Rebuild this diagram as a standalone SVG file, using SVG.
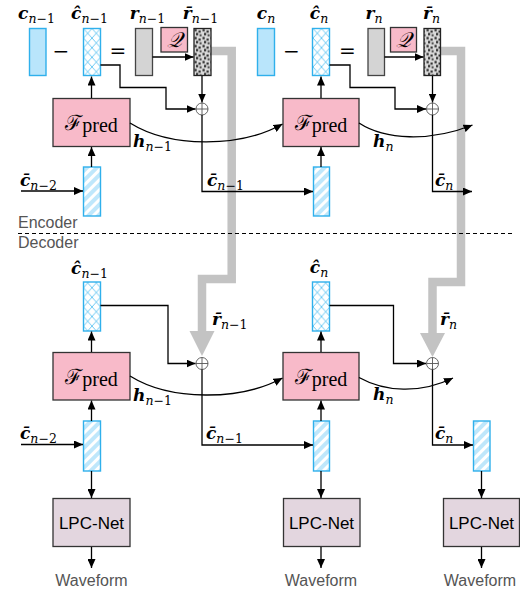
<svg xmlns="http://www.w3.org/2000/svg" width="520" height="592" viewBox="0 0 520 592">
<style>
.blue{fill:#b9e5fb;stroke:#2fb0ec;stroke-width:1.4}
.xh{fill:url(#xhp);stroke:#2fb0ec;stroke-width:1.4}
.dh{fill:url(#dhp);stroke:#2fb0ec;stroke-width:1.4}
.gr{fill:#d4d4d4;stroke:#444;stroke-width:1.3}
.dot{fill:url(#dotp);stroke:#222;stroke-width:1.3}
.pink{fill:#f8bac9;stroke:#333;stroke-width:1.3}
.lpc{fill:#e3d6df;stroke:#333;stroke-width:1.3}
.ln{fill:none;stroke:#000;stroke-width:1.3}
.arr{marker-end:url(#ah)}
.gray{fill:none;stroke:#c3c3c3;stroke-width:8.5}
.plus{fill:#fff;stroke:#555;stroke-width:0.9}
.v{font-family:"DejaVu Serif",serif;font-weight:bold;font-style:italic;font-size:17px}
.si{font-family:"DejaVu Serif",serif;font-style:italic;font-weight:normal;font-size:12.5px}
.su{font-family:"DejaVu Serif",serif;font-style:normal;font-weight:normal;font-size:12.5px}
.op{font-family:"DejaVu Serif",serif;font-size:20px;text-anchor:middle}
.fp{font-family:"DejaVu Serif",serif;font-size:21px}
.pr{font-family:"Liberation Serif",serif;font-size:20px}
.q{font-family:"DejaVu Serif",serif;font-style:italic;font-size:21px;text-anchor:middle}
.lab{font-family:"Liberation Sans",Arial,sans-serif;font-size:16px;fill:#555}
.lt{font-family:"Liberation Sans",Arial,sans-serif;font-size:17px;fill:#000;text-anchor:middle}
</style>
<defs>
<pattern id="xhp" patternUnits="userSpaceOnUse" width="8.5" height="9.6" x="83.5" y="28.5">
<rect width="8.5" height="9.6" fill="#fff"/>
<path d="M0,0 L8.5,9.6 M8.5,0 L0,9.6" stroke="#5cc3f2" stroke-width="0.9" fill="none"/>
</pattern>
<pattern id="dhp" patternUnits="userSpaceOnUse" width="7" height="7" patternTransform="rotate(45)">
<rect width="7" height="7" fill="#bfe7fb"/>
<rect width="3" height="7" fill="#fff"/>
</pattern>
<pattern id="dotp" patternUnits="userSpaceOnUse" width="8" height="8" x="194" y="28.5">
<rect width="8" height="8" fill="#d9d9d9"/>
<rect x="0.5" y="0.5" width="2.2" height="2.2" fill="#222"/>
<rect x="4.5" y="2" width="2.2" height="2.2" fill="#333"/>
<rect x="2" y="4.5" width="2.2" height="2.2" fill="#222"/>
<rect x="5.6" y="5.8" width="2" height="2" fill="#444"/>
</pattern>
<marker id="ah" viewBox="0 0 9 8" refX="9" refY="4" markerWidth="9" markerHeight="8" markerUnits="userSpaceOnUse" orient="auto">
<path d="M0,0 L9,4 L0,8 z" fill="#000"/>
</marker>
</defs>
<rect width="520" height="592" fill="#fff"/>

<!-- gray residual paths -->
<g id="residual-paths">
<path class="gray" d="M211,51 H231.7 V279 H202 V332"/>
<polygon points="189.5,331 214.5,331 202,356" fill="#c3c3c3"/>
<path class="gray" d="M440.5,51 H461 V282 H432.5 V334"/>
<polygon points="420,333 445,333 432.5,357" fill="#c3c3c3"/>
</g>

<!-- encoder nodes -->
<g id="enc-c-n1"><rect class="blue" x="29.5" y="28.5" width="16.5" height="47"/>
<text x="36.5" y="19" text-anchor="middle"><tspan class="v">c</tspan><tspan class="si" dy="3.5">n</tspan><tspan class="su">−1</tspan></text></g>
<g id="enc-chat-n1"><rect class="xh" x="83.5" y="28.5" width="17" height="47"/>
<text x="89.5" y="19" text-anchor="middle"><tspan class="v">ĉ</tspan><tspan class="si" dy="3.5">n</tspan><tspan class="su">−1</tspan></text></g>
<g id="enc-r-n1"><rect class="gr" x="135.5" y="28.5" width="17" height="47"/>
<text x="147.5" y="19" text-anchor="middle"><tspan class="v">r</tspan><tspan class="si" dy="3.5">n</tspan><tspan class="su">−1</tspan></text></g>
<g id="enc-q-n1"><rect class="pink" x="161" y="27.5" width="26.5" height="24.5"/>
<text class="q" x="174.2" y="47">𝒬</text></g>
<g id="enc-rbar-n1"><rect class="dot" x="194" y="28.5" width="17" height="47"/>
<text x="200.5" y="19" text-anchor="middle"><tspan class="v">r̄</tspan><tspan class="si" dy="3.5">n</tspan><tspan class="su">−1</tspan></text></g>
<text class="op" x="61" y="58">−</text>
<text class="op" x="118" y="58">=</text>

<g id="enc-c-n"><rect class="blue" x="257.5" y="28.5" width="17" height="47"/>
<text x="266" y="19" text-anchor="middle"><tspan class="v">c</tspan><tspan class="si" dy="3.5">n</tspan></text></g>
<g id="enc-chat-n"><rect class="xh" x="312.5" y="28.5" width="17" height="47"/>
<text x="319" y="19" text-anchor="middle"><tspan class="v">ĉ</tspan><tspan class="si" dy="3.5">n</tspan></text></g>
<g id="enc-r-n"><rect class="gr" x="368" y="28.5" width="16.5" height="47"/>
<text x="374" y="19" text-anchor="middle"><tspan class="v">r</tspan><tspan class="si" dy="3.5">n</tspan></text></g>
<g id="enc-q-n"><rect class="pink" x="390.5" y="27.5" width="26" height="24.5"/>
<text class="q" x="403.5" y="47">𝒬</text></g>
<g id="enc-rbar-n"><rect class="dot" x="424" y="28.5" width="16.5" height="47"/>
<text x="431.5" y="19" text-anchor="middle"><tspan class="v">r̄</tspan><tspan class="si" dy="3.5">n</tspan></text></g>
<text class="op" x="291.5" y="58">−</text>
<text class="op" x="347.5" y="58">=</text>

<g id="enc-fpred-n1"><rect class="pink" x="53" y="98.5" width="77" height="48"/>
<text x="91.5" y="130" text-anchor="middle"><tspan class="fp">ℱ</tspan><tspan class="pr" dy="2">pred</tspan></text></g>
<g id="enc-fpred-n"><rect class="pink" x="283" y="98.5" width="76" height="48"/>
<text x="321" y="130" text-anchor="middle"><tspan class="fp">ℱ</tspan><tspan class="pr" dy="2">pred</tspan></text></g>
<g id="enc-cbar-n2"><rect class="dh" x="83.5" y="167" width="17" height="49"/></g>
<g id="enc-cbar-n1"><rect class="dh" x="313.5" y="167" width="16" height="49"/></g>
<g id="enc-plus-n1"><circle class="plus" cx="202" cy="109" r="6"/><path d="M196,109 H208 M202,103 V115" stroke="#555" stroke-width="0.9"/></g>
<g id="enc-plus-n"><circle class="plus" cx="432.5" cy="109" r="6"/><path d="M426.5,109 H438.5 M432.5,103 V115" stroke="#555" stroke-width="0.9"/></g>

<!-- encoder connector labels -->
<text x="20" y="186"><tspan class="v">c̄</tspan><tspan class="si" dy="3.5">n</tspan><tspan class="su">−2</tspan></text>
<text x="133" y="147"><tspan class="v">h</tspan><tspan class="si" dy="3.5">n</tspan><tspan class="su">−1</tspan></text>
<text x="207" y="186"><tspan class="v">c̄</tspan><tspan class="si" dy="3.5">n</tspan><tspan class="su">−1</tspan></text>
<text x="373" y="147"><tspan class="v">h</tspan><tspan class="si" dy="3.5">n</tspan></text>
<text x="435" y="186"><tspan class="v">c̄</tspan><tspan class="si" dy="3.5">n</tspan></text>

<text class="lab" x="18" y="228">Encoder</text>
<line x1="18" y1="233.5" x2="512" y2="233.5" stroke="#000" stroke-width="1.1" stroke-dasharray="4,3"/>
<text class="lab" x="18" y="248">Decoder</text>

<!-- decoder nodes -->
<g id="dec-chat-n1"><rect class="xh" x="83.5" y="282" width="17" height="49"/>
<text x="89.5" y="274" text-anchor="middle"><tspan class="v">ĉ</tspan><tspan class="si" dy="3.5">n</tspan><tspan class="su">−1</tspan></text></g>
<g id="dec-chat-n"><rect class="xh" x="312.5" y="282" width="17" height="49"/>
<text x="319" y="273" text-anchor="middle"><tspan class="v">ĉ</tspan><tspan class="si" dy="3.5">n</tspan></text></g>
<g id="dec-fpred-n1"><rect class="pink" x="53" y="352.5" width="77" height="47.5"/>
<text x="91.5" y="383.5" text-anchor="middle"><tspan class="fp">ℱ</tspan><tspan class="pr" dy="2">pred</tspan></text></g>
<g id="dec-fpred-n"><rect class="pink" x="283" y="352.5" width="76" height="47.5"/>
<text x="321" y="383.5" text-anchor="middle"><tspan class="fp">ℱ</tspan><tspan class="pr" dy="2">pred</tspan></text></g>
<g id="dec-plus-n1"><circle class="plus" cx="202" cy="363.5" r="6"/><path d="M196,363.5 H208 M202,357.5 V369.5" stroke="#555" stroke-width="0.9"/></g>
<g id="dec-plus-n"><circle class="plus" cx="432.5" cy="363.5" r="6"/><path d="M426.5,363.5 H438.5 M432.5,357.5 V369.5" stroke="#555" stroke-width="0.9"/></g>
<g id="dec-cbar-n2"><rect class="dh" x="83.5" y="421" width="17" height="50"/></g>
<g id="dec-cbar-n1"><rect class="dh" x="313.5" y="421" width="16" height="50"/></g>
<g id="dec-cbar-n"><rect class="dh" x="473.5" y="421" width="16.5" height="50"/></g>
<g id="lpc-1"><rect class="lpc" x="53" y="498.5" width="77" height="48"/><text class="lt" x="91.5" y="528.5">LPC-Net</text></g>
<g id="lpc-2"><rect class="lpc" x="283.5" y="498.5" width="76.5" height="48"/><text class="lt" x="321.5" y="528.5">LPC-Net</text></g>
<g id="lpc-3"><rect class="lpc" x="443.5" y="498.5" width="76" height="48"/><text class="lt" x="481.5" y="528.5">LPC-Net</text></g>
<text class="lab" x="91.5" y="586" text-anchor="middle">Waveform</text>
<text class="lab" x="321" y="586" text-anchor="middle">Waveform</text>
<text class="lab" x="480" y="586" text-anchor="middle">Waveform</text>

<!-- decoder labels -->
<text x="212" y="325"><tspan class="v">r̄</tspan><tspan class="si" dy="3.5">n</tspan><tspan class="su">−1</tspan></text>
<text x="440" y="325"><tspan class="v">r̄</tspan><tspan class="si" dy="3.5">n</tspan></text>
<text x="133" y="401"><tspan class="v">h</tspan><tspan class="si" dy="3.5">n</tspan><tspan class="su">−1</tspan></text>
<text x="373" y="400"><tspan class="v">h</tspan><tspan class="si" dy="3.5">n</tspan></text>
<text x="20" y="439"><tspan class="v">c̄</tspan><tspan class="si" dy="3.5">n</tspan><tspan class="su">−2</tspan></text>
<text x="206" y="439"><tspan class="v">c̄</tspan><tspan class="si" dy="3.5">n</tspan><tspan class="su">−1</tspan></text>
<text x="435" y="439"><tspan class="v">c̄</tspan><tspan class="si" dy="3.5">n</tspan></text>

<!-- connectors -->
<g id="connectors">
<path class="ln arr" d="M91.5,98 V76.5"/>
<path class="ln arr" d="M91.5,167 V147"/>
<path class="ln arr" d="M21,191 H83"/>
<path class="ln arr" d="M100.5,65 H120 V87.5 H166 V109 H195.5"/>
<path class="ln arr" d="M202,76 V102.5"/>
<path class="ln arr" d="M152.5,57 H193.5"/>
<path class="ln arr" d="M202,115 V191.5 H313"/>
<path class="ln arr" d="M130,123 C170,148 240,148 282.5,124"/>

<path class="ln arr" d="M321,98 V76.5"/>
<path class="ln arr" d="M321,167 V147"/>
<path class="ln arr" d="M329.5,65 H350 V87.5 H395 V109 H426"/>
<path class="ln arr" d="M432.5,76 V102.5"/>
<path class="ln arr" d="M384.5,57 H423.5"/>
<path class="ln arr" d="M432.5,115 V191.5 H472"/>
<path class="ln arr" d="M359,123 C385,140 430,142 472.5,125"/>

<path class="ln arr" d="M91.5,352 V331.5"/>
<path class="ln arr" d="M91.5,421 V400.5"/>
<path class="ln arr" d="M21,444.5 H83"/>
<path class="ln arr" d="M100.5,305.5 H168 V363.5 H195.5"/>
<path class="ln arr" d="M202,369.5 V445 H313"/>
<path class="ln arr" d="M130,376 C170,401 240,401 282.5,378"/>
<path class="ln arr" d="M91.5,471 V498"/>
<path class="ln arr" d="M91.5,547 V568"/>

<path class="ln arr" d="M321,352 V331.5"/>
<path class="ln arr" d="M321,421 V400.5"/>
<path class="ln arr" d="M329.5,305.5 H393.5 V363.5 H426"/>
<path class="ln arr" d="M432.5,369.5 V445 H473"/>
<path class="ln arr" d="M359,377.5 C385,392 420,394 453,378"/>
<path class="ln arr" d="M321,471 V498"/>
<path class="ln arr" d="M321,547 V568"/>
<path class="ln arr" d="M481.5,471 V498"/>
<path class="ln arr" d="M481.5,547 V568"/>
</g>
</svg>
